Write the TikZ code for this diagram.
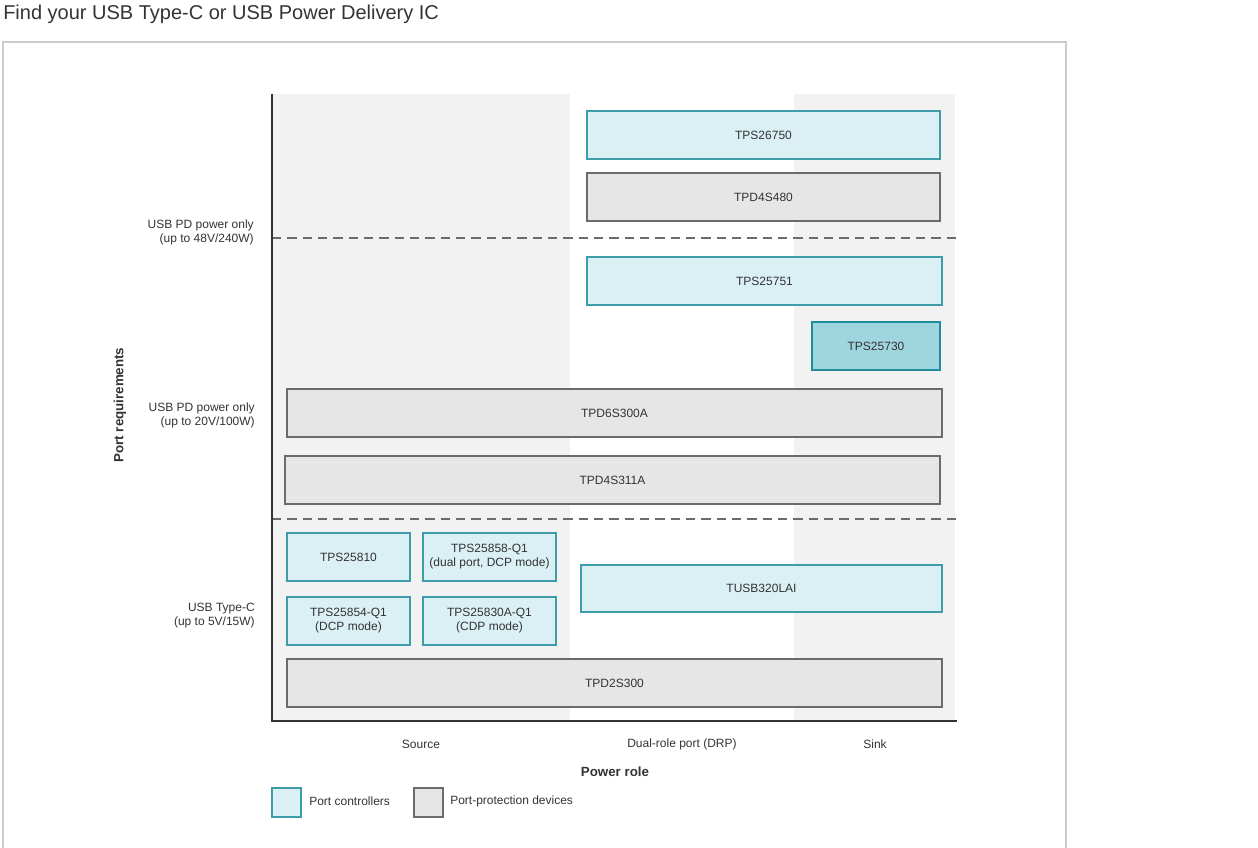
\documentclass[tikz,border=0pt]{standalone}
\usepackage{fontspec}
\setmainfont{Liberation Sans}
\definecolor{cfill}{HTML}{DAF0F4}
\definecolor{cline}{HTML}{3E9DA9}
\definecolor{dfill}{HTML}{9ED5DF}
\definecolor{dline}{HTML}{1F8C99}
\definecolor{gfill}{HTML}{E6E6E6}
\definecolor{gline}{HTML}{6B6B6B}
\definecolor{bgcol}{HTML}{F2F2F2}
\definecolor{txt}{HTML}{333333}
\definecolor{frame}{HTML}{CCCCCC}
\tikzset{
  chip/.style={draw, line width=1pt, inner sep=0pt, align=center, text=txt,
    font=\fontsize{9}{10.5}\selectfont, minimum height=36pt},
  ctrl/.style={chip, fill=cfill, draw=cline},
  ctrldark/.style={chip, fill=dfill, draw=dline},
  prot/.style={chip, fill=gfill, draw=gline},
  lbl/.style={text=txt, font=\fontsize{9}{10.5}\selectfont, inner sep=0pt},
  boldlbl/.style={text=txt, font=\fontsize{10}{12}\selectfont\bfseries, inner sep=0pt},
}
\begin{document}
\begin{tikzpicture}[x=0.75pt,y=-0.75pt]
\useasboundingbox (0,0) rectangle (1258,848);
% title
\node[anchor=west, text=txt, font=\fontsize{15}{18}\selectfont, inner sep=0pt] (title) at (3,14) {Find your USB Type-C or USB Power Delivery IC};
% outer frame
\draw[frame, line width=1pt] (3,860) -- (3,42) -- (1066,42) -- (1066,860);
% column backgrounds
\fill[bgcol] (272,94) rectangle (570,721);
\fill[bgcol] (794,94) rectangle (955,721);
% dashed separators
\draw[gline, dashed, dash pattern=on 7pt off 4.5pt, line width=0.9pt] (272,238) -- (957,238);
\draw[gline, dashed, dash pattern=on 7pt off 4.5pt, line width=0.9pt] (272,519) -- (957,519);
% axes
\coordinate (origin) at (272,721);
\coordinate (ytop) at (272,94);
\coordinate (xend) at (957,721);
\draw[txt, line width=1.4pt] (ytop) -- (origin) -- (xend);
% boxes
\node[ctrl, minimum width={353*0.75pt}] (tps26750) at (763.5,135) {TPS26750};
\node[prot, minimum width={353*0.75pt}] (tpd4s480) at (763.5,197) {TPD4S480};
\node[ctrl, minimum width={355*0.75pt}] (tps25751) at (764.5,281) {TPS25751};
\node[ctrldark, minimum width={128*0.75pt}] (tps25730) at (876,346) {TPS25730};
\node[prot, minimum width={655*0.75pt}] (tpd6s300a) at (614.5,413) {TPD6S300A};
\node[prot, minimum width={655*0.75pt}] (tpd4s311a) at (612.5,480) {TPD4S311A};
\node[ctrl, minimum width={123*0.75pt}] (tps25810) at (348.5,557) {TPS25810};
\node[ctrl, minimum width={133*0.75pt}] (tps25858) at (489.5,557) {TPS25858-Q1\\(dual port, DCP mode)};
\node[ctrl, minimum width={123*0.75pt}] (tps25854) at (348.5,621) {TPS25854-Q1\\(DCP mode)};
\node[ctrl, minimum width={133*0.75pt}] (tps25830a) at (489.5,621) {TPS25830A-Q1\\(CDP mode)};
\node[ctrl, minimum width={361*0.75pt}, minimum height={47*0.75pt}] (tusb320lai) at (761.5,588.5) {TUSB320LAI};
\node[prot, minimum width={655*0.75pt}] (tpd2s300) at (614.5,683) {TPD2S300};
% y labels
\node[lbl, anchor=east, align=right] (y48) at (254,232) {USB PD power only\\(up to 48V/240W)};
\node[lbl, anchor=east, align=right] (y20) at (255,415) {USB PD power only\\(up to 20V/100W)};
\node[lbl, anchor=east, align=right] (y5) at (255,616) {USB Type-C\\(up to 5V/15W)};
\node[boldlbl, rotate=90] (yaxis) at (120,405) {Port requirements};
% x labels
\node[lbl] (xsrc) at (421,744) {Source};
\node[lbl] (xdrp) at (682,744) {Dual-role port (DRP)};
\node[lbl] (xsink) at (875,744) {Sink};
\node[boldlbl] (xaxis) at (615,772) {Power role};
% legend
\node[ctrl, minimum width={29*0.75pt}, minimum height={29*0.75pt}] (legc) at (286.5,802.5) {};
\node[lbl, anchor=west] (legct) at (309,801) {Port controllers};
\node[prot, minimum width={29*0.75pt}, minimum height={29*0.75pt}] (legp) at (428.5,802.5) {};
\node[lbl, anchor=west] (legpt) at (450,801) {Port-protection devices};
\end{tikzpicture}
\end{document}
